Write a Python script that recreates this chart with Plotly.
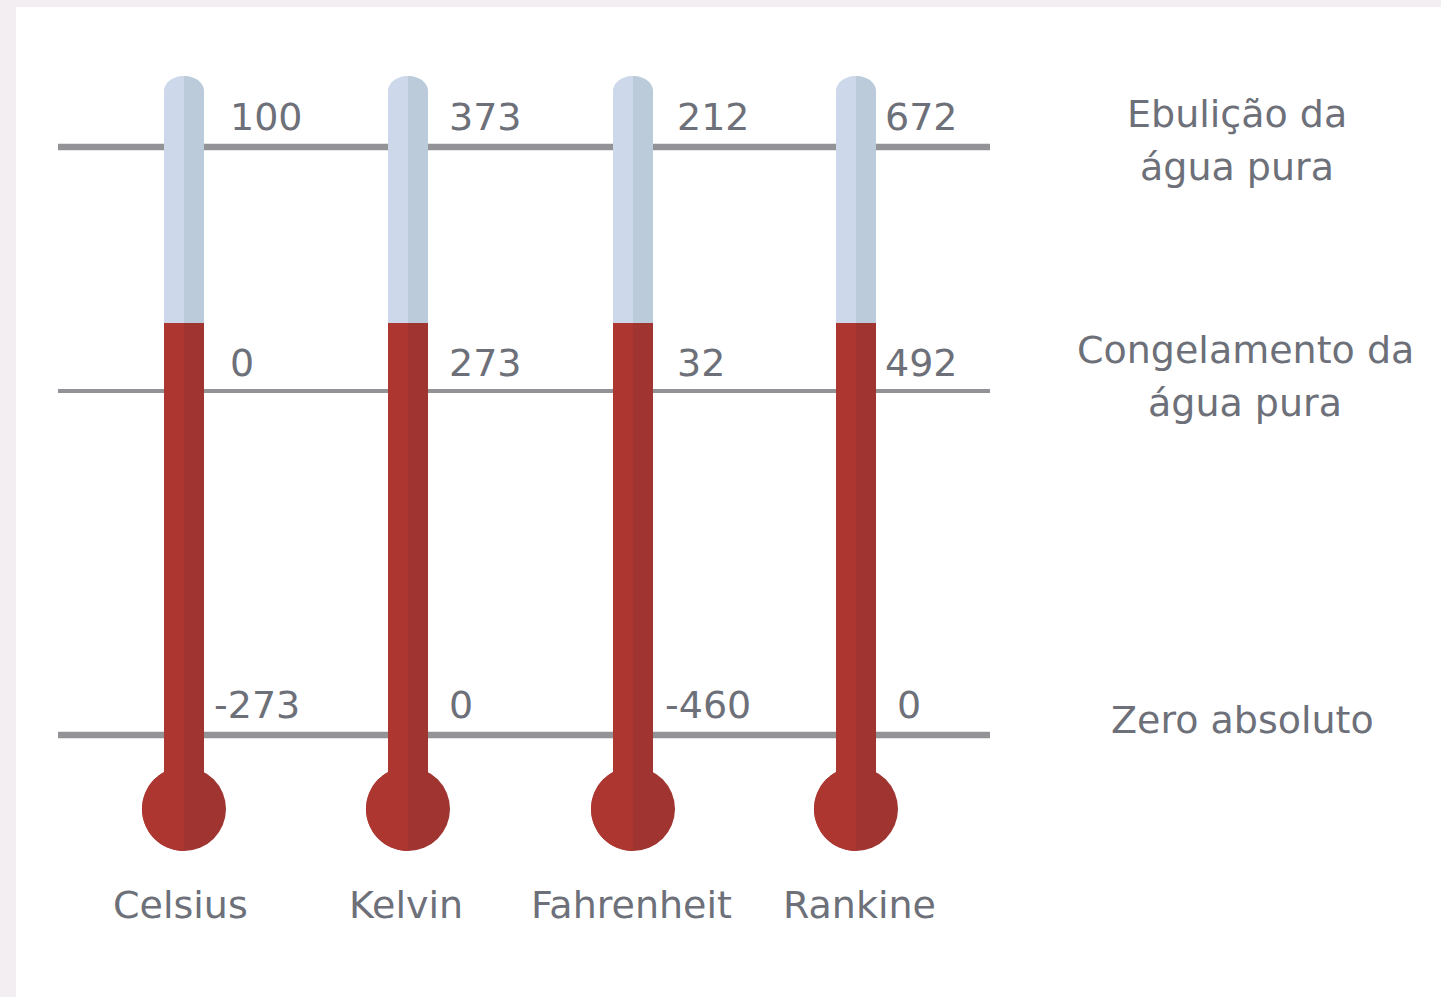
import numpy as np
import plotly.graph_objects as go

# ---------------- data ----------------
scales = ["Celsius", "Kelvin", "Fahrenheit", "Rankine"]
boiling_point = [100, 373, 212, 672]
freezing_point = [0, 273, 32, 492]
absolute_zero = [-273, 0, -460, 0]
reference_points = ["Ebulição da\nágua pura", "Congelamento da\nágua pura", "Zero absoluto"]

# ---------------- layout / style ----------------
W, H = 1441, 997
tube_x = [184, 408, 633, 856]
label_x = [228, 447, 675, 883]
bottom_dx = [-16, 0, -12, 12]   # small label offsets on the absolute-zero row
name_x = [180, 406, 631, 859]
level_y = [147, 391, 735]
level_w = [6.5, 4, 6.5]
value_y = [117, 363, 705]
ref_x = [1237, 1245, 1242]
ref_y = [114, 350, 720]
ref_step = 53
line_x0, line_x1 = 58, 990
half_w = 20
tube_top = 76
cap_h = 15
fill_y = 323
bulb_cy, bulb_r = 809, 42
name_y = 905

BLUE_L, BLUE_R = "#cdd8ea", "#bccbd9"
RED_L, RED_R = "#ad3631", "#9f3430"
LINE_C = "#929297"
TEXT_C = "#6d7079"
BG_OUT = "#f2eef1"
FONT = dict(family="DejaVu Sans", size=38, color=TEXT_C)


def path(pts):
    return "M " + " L ".join(f"{x:.2f},{y:.2f}" for x, y in pts) + " Z"


shapes = []
# white panel
shapes.append(dict(type="rect", xref="x", yref="y", x0=16, x1=W, y0=7, y1=H,
                   fillcolor="white", line=dict(width=0), layer="below"))

# reference lines
for y, w in zip(level_y, level_w):
    shapes.append(dict(type="line", xref="x", yref="y", x0=line_x0, x1=line_x1, y0=y, y1=y,
                       line=dict(color=LINE_C, width=w), layer="below"))

t = np.linspace(0, np.pi / 2, 30)
for cx in tube_x:
    cap_c = tube_top + cap_h
    left_cap = [(cx - half_w * np.cos(a), cap_c - cap_h * np.sin(a)) for a in t]
    right_cap = [(cx + half_w * np.cos(a), cap_c - cap_h * np.sin(a)) for a in t]
    shapes.append(dict(type="path", xref="x", yref="y",
                       path=path([(cx - half_w, fill_y)] + left_cap + [(cx, fill_y)]),
                       fillcolor=BLUE_L, line=dict(width=0)))
    shapes.append(dict(type="path", xref="x", yref="y",
                       path=path([(cx + half_w, fill_y)] + right_cap + [(cx, fill_y)]),
                       fillcolor=BLUE_R, line=dict(width=0)))
    shapes.append(dict(type="rect", xref="x", yref="y", x0=cx - half_w, x1=cx, y0=fill_y, y1=bulb_cy,
                       fillcolor=RED_L, line=dict(width=0)))
    shapes.append(dict(type="rect", xref="x", yref="y", x0=cx, x1=cx + half_w, y0=fill_y, y1=bulb_cy,
                       fillcolor=RED_R, line=dict(width=0)))
    shapes.append(dict(type="circle", xref="x", yref="y", x0=cx - bulb_r, x1=cx + bulb_r,
                       y0=bulb_cy - bulb_r, y1=bulb_cy + bulb_r,
                       fillcolor=RED_R, line=dict(width=0)))
    a = np.linspace(np.pi / 2, 3 * np.pi / 2, 60)
    half = [(cx + bulb_r * np.cos(v), bulb_cy - bulb_r * np.sin(v)) for v in a]
    shapes.append(dict(type="path", xref="x", yref="y", path=path(half),
                       fillcolor=RED_L, line=dict(width=0)))

annotations = []
for i, name in enumerate(scales):
    rows = [boiling_point, freezing_point, absolute_zero]
    for r, (vals, y) in enumerate(zip(rows, value_y)):
        dx = bottom_dx[i] if r == 2 else 0
        annotations.append(dict(x=label_x[i] + dx, y=y, xref="x", yref="y", text=str(vals[i]),
                                showarrow=False, xanchor="left", yanchor="middle", font=FONT))
    annotations.append(dict(x=name_x[i], y=name_y, xref="x", yref="y", text=name,
                            showarrow=False, xanchor="center", yanchor="middle", font=FONT))

for j, label in enumerate(reference_points):
    for k, line in enumerate(label.split("\n")):
        annotations.append(dict(x=ref_x[j], y=ref_y[j] + k * ref_step, xref="x", yref="y",
                                text=line, showarrow=False, xanchor="center", yanchor="middle",
                                font=FONT))

fig = go.Figure()
fig.add_trace(go.Scatter(x=[0], y=[0], mode="markers", marker=dict(opacity=0),
                         hoverinfo="skip", showlegend=False))
fig.update_layout(
    width=W, height=H,
    margin=dict(l=0, r=0, t=0, b=0),
    paper_bgcolor=BG_OUT, plot_bgcolor=BG_OUT,
    xaxis=dict(range=[0, W], visible=False, fixedrange=True),
    yaxis=dict(range=[H, 0], visible=False, fixedrange=True),
    shapes=shapes, annotations=annotations, showlegend=False,
)
fig.write_html("out.html", config=dict(displayModeBar=False, staticPlot=True),
               post_script="document.body.style.margin='0';document.body.style.overflow='hidden';")
